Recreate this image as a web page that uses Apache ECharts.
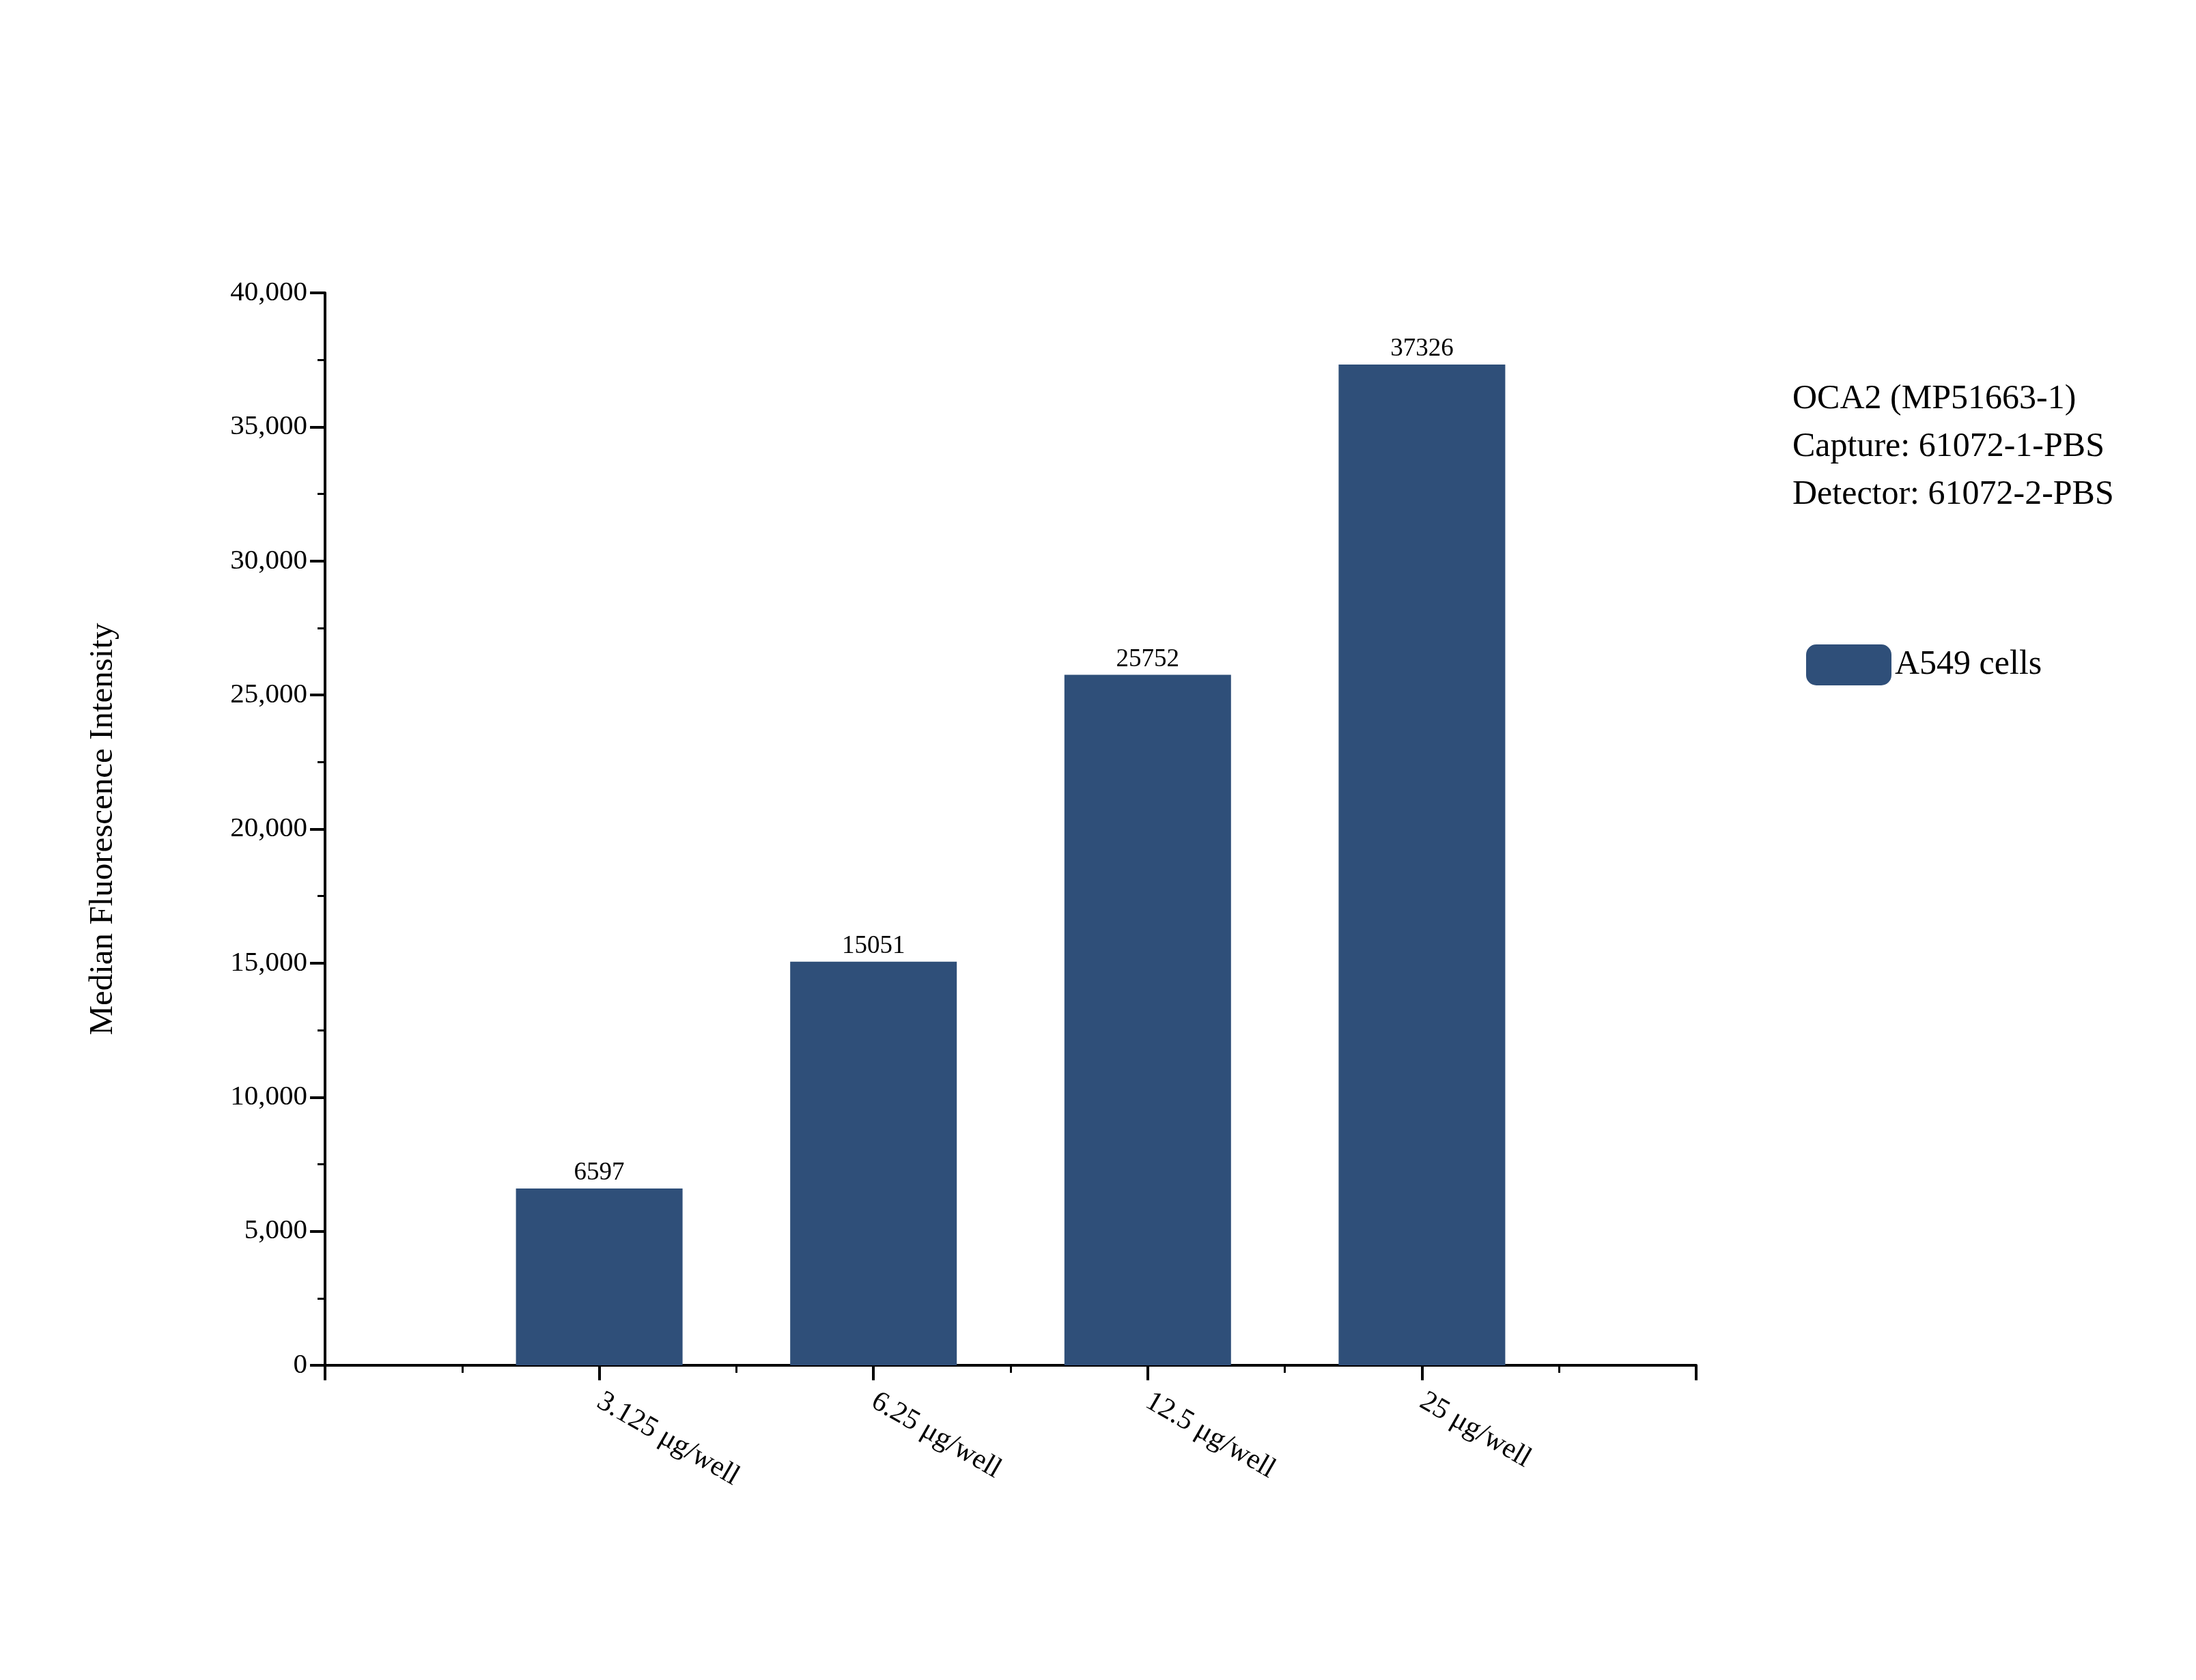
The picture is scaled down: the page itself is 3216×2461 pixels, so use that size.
<!DOCTYPE html>
<html>
<head>
<meta charset="utf-8">
<script src="https://cdn.jsdelivr.net/npm/echarts@6/dist/echarts.min.js"></script>
<style>html,body{margin:0;padding:0;background:#fff}#chart{width:3216px;height:2461px}</style>
</head>
<body>
<div id="chart"></div>
<script>
const categories = ['3.125 μg/well', '6.25 μg/well', '12.5 μg/well', '25 μg/well'];
const values = [6597, 15051, 25752, 37326];
const yTicks = [0, 5000, 10000, 15000, 20000, 25000, 30000, 35000, 40000];
const seriesName = 'A549 cells';
const infoLines = ['OCA2 (MP51663-1)', 'Capture: 61072-1-PBS', 'Detector: 61072-2-PBS'];

const font = 'Liberation Serif';
const barColor = '#2f4f79';
const chart = echarts.init(document.getElementById('chart'));

chart.setOption({
    backgroundColor: '#fff',
    animation: false,
    textStyle: { fontFamily: font },
    grid: { left: 476, right: 732, top: 429, bottom: 461 },
    legend: {
        data: [seriesName],
        left: 2640, top: 939,
        itemWidth: 125, itemHeight: 60,
        itemGap: 16,
        textStyle: { fontFamily: font, fontSize: 50, color: '#000' }
    },
    graphic: infoLines.map((t, i) => ({
        type: 'text',
        left: 2625, top: 560 + i * 70,
        style: { text: t, font: '50px "Liberation Serif"', fill: '#000' }
    })),
    xAxis: {
        type: 'value',
        min: 0, max: 5, interval: 1,
        axisLine: { lineStyle: { color: '#000', width: 4 } },
        axisTick: { length: 22, lineStyle: { color: '#000', width: 4 } },
        minorTick: { show: true, splitNumber: 2, length: 11, lineStyle: { color: '#000', width: 3 } },
        splitLine: { show: false },
        axisLabel: {
            rotate: -30, margin: 50, fontSize: 42, color: '#000', fontFamily: font,
            formatter: v => categories[v - 1] || ''
        }
    },
    yAxis: {
        type: 'value',
        min: yTicks[0], max: yTicks[yTicks.length - 1], interval: 5000,
        name: 'Median Fluorescence Intensity',
        nameLocation: 'middle', nameGap: 300,
        nameTextStyle: { fontSize: 49, color: '#000', fontFamily: font },
        axisLine: { show: true, lineStyle: { color: '#000', width: 4 } },
        axisTick: { show: true, length: 22, lineStyle: { color: '#000', width: 4 } },
        minorTick: { show: true, splitNumber: 2, length: 11, lineStyle: { color: '#000', width: 3 } },
        splitLine: { show: false },
        axisLabel: { fontSize: 41, color: '#000', fontFamily: font, margin: 26 }
    },
    series: [{
        name: seriesName,
        type: 'bar',
        barWidth: 244,
        data: values.map((v, i) => [i + 1, v]),
        itemStyle: { color: barColor },
        label: {
            show: true, position: 'top', distance: 4,
            fontSize: 37, color: '#000', fontFamily: font,
            formatter: p => p.value[1]
        }
    }]
});
</script>
</body>
</html>
